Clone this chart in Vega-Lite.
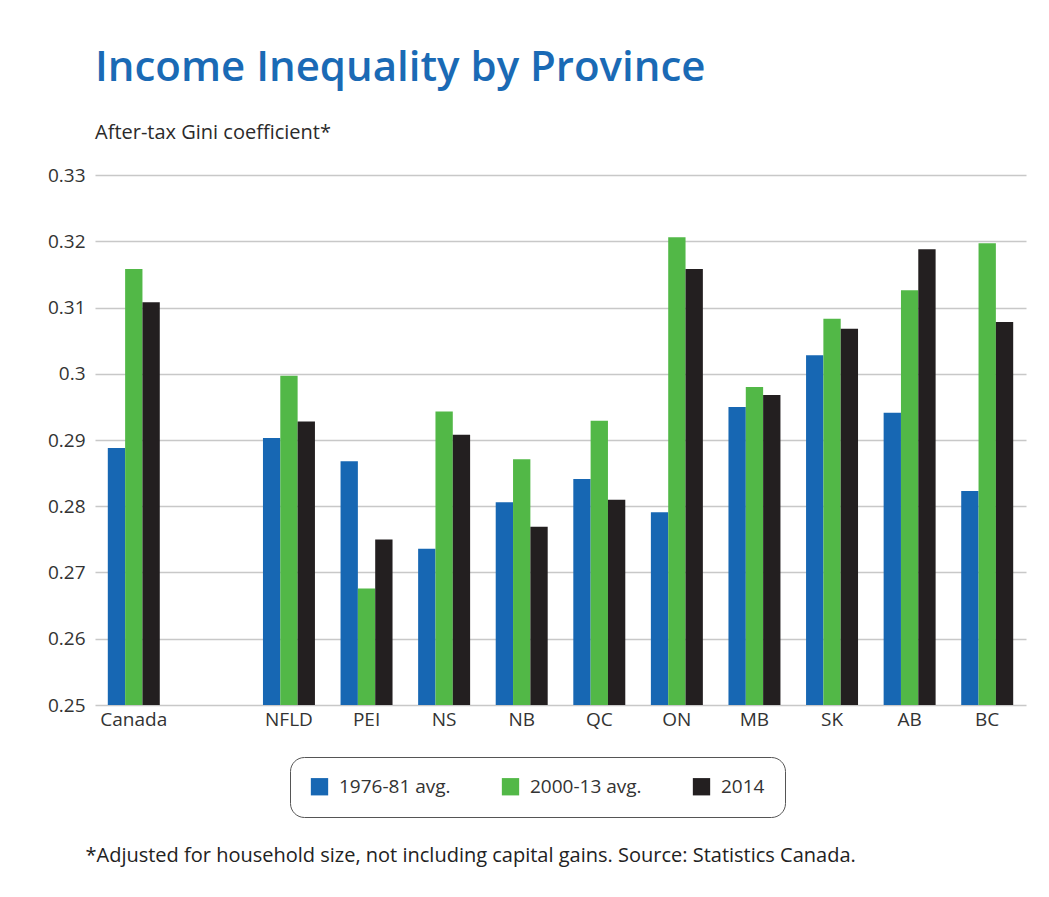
{
  "$schema": "https://vega.github.io/schema/vega-lite/v6.json",
  "autosize": {"type": "none"},
  "width": 931,
  "height": 530,
  "padding": {"left": 95, "top": 175, "right": 23, "bottom": 192},
  "background": "white",
  "config": {
    "font": "Open Sans",
    "view": {"stroke": null}
  },
  "title": {
    "text": "Income Inequality by Province",
    "subtitle": "After-tax Gini coefficient*",
    "anchor": "start",
    "frame": "group",
    "fontSize": 42,
    "fontWeight": 600,
    "color": "#1a6ab5",
    "subtitleFontSize": 20,
    "subtitleColor": "#2b2b2b",
    "subtitlePadding": 33,
    "offset": 22
  },
  "data": {
    "values": [
      {"region": "Canada", "series": "1976-81 avg.", "gini": 0.2888},
      {"region": "Canada", "series": "2000-13 avg.", "gini": 0.3158},
      {"region": "Canada", "series": "2014", "gini": 0.3108},
      {"region": "NFLD", "series": "1976-81 avg.", "gini": 0.2903},
      {"region": "NFLD", "series": "2000-13 avg.", "gini": 0.2997},
      {"region": "NFLD", "series": "2014", "gini": 0.2928},
      {"region": "PEI", "series": "1976-81 avg.", "gini": 0.2868},
      {"region": "PEI", "series": "2000-13 avg.", "gini": 0.2676},
      {"region": "PEI", "series": "2014", "gini": 0.2750},
      {"region": "NS", "series": "1976-81 avg.", "gini": 0.2736},
      {"region": "NS", "series": "2000-13 avg.", "gini": 0.2943},
      {"region": "NS", "series": "2014", "gini": 0.2908},
      {"region": "NB", "series": "1976-81 avg.", "gini": 0.2806},
      {"region": "NB", "series": "2000-13 avg.", "gini": 0.2871},
      {"region": "NB", "series": "2014", "gini": 0.2769},
      {"region": "QC", "series": "1976-81 avg.", "gini": 0.2841},
      {"region": "QC", "series": "2000-13 avg.", "gini": 0.2929},
      {"region": "QC", "series": "2014", "gini": 0.2810},
      {"region": "ON", "series": "1976-81 avg.", "gini": 0.2791},
      {"region": "ON", "series": "2000-13 avg.", "gini": 0.3206},
      {"region": "ON", "series": "2014", "gini": 0.3158},
      {"region": "MB", "series": "1976-81 avg.", "gini": 0.2950},
      {"region": "MB", "series": "2000-13 avg.", "gini": 0.2980},
      {"region": "MB", "series": "2014", "gini": 0.2968},
      {"region": "SK", "series": "1976-81 avg.", "gini": 0.3028},
      {"region": "SK", "series": "2000-13 avg.", "gini": 0.3083},
      {"region": "SK", "series": "2014", "gini": 0.3068},
      {"region": "AB", "series": "1976-81 avg.", "gini": 0.2941},
      {"region": "AB", "series": "2000-13 avg.", "gini": 0.3126},
      {"region": "AB", "series": "2014", "gini": 0.3188},
      {"region": "BC", "series": "1976-81 avg.", "gini": 0.2823},
      {"region": "BC", "series": "2000-13 avg.", "gini": 0.3197},
      {"region": "BC", "series": "2014", "gini": 0.3078}
    ]
  },
  "mark": {"type": "bar", "clip": true},
  "encoding": {
    "x": {
      "field": "region",
      "type": "nominal",
      "scale": {
        "domain": ["Canada", " ", "NFLD", "PEI", "NS", "NB", "QC", "ON", "MB", "SK", "AB", "BC"],
        "paddingInner": 0.33,
        "paddingOuter": 0.165
      },
      "axis": {
        "title": "*Adjusted for household size, not including capital gains. Source: Statistics Canada.",
        "titleAnchor": "start",
        "titleAlign": "left",
        "titleBaseline": "alphabetic",
        "titleX": -10,
        "titleY": 156,
        "titleFontSize": 20,
        "titleFontWeight": "normal",
        "titleColor": "#222222",
        "labelAngle": 0,
        "labelFontSize": 19,
        "labelColor": "#333333",
        "labelPadding": 5,
        "ticks": false,
        "domain": false
      }
    },
    "xOffset": {
      "field": "series",
      "type": "nominal",
      "sort": ["1976-81 avg.", "2000-13 avg.", "2014"],
      "scale": {"paddingInner": 0, "paddingOuter": 0}
    },
    "y": {
      "field": "gini",
      "type": "quantitative",
      "scale": {"domain": [0.25, 0.33], "zero": false, "nice": false},
      "axis": {
        "title": null,
        "values": [0.25, 0.26, 0.27, 0.28, 0.29, 0.3, 0.31, 0.32, 0.33],
        "format": ".2~f",
        "labelFontSize": 19,
        "labelColor": "#333333",
        "labelPadding": 10,
        "ticks": false,
        "domain": false,
        "gridColor": "#c8c8c8",
        "gridWidth": 1.5
      }
    },
    "color": {
      "field": "series",
      "type": "nominal",
      "sort": ["1976-81 avg.", "2000-13 avg.", "2014"],
      "scale": {
        "domain": ["1976-81 avg.", "2000-13 avg.", "2014"],
        "range": ["#1767b3", "#52b847", "#231f20"]
      },
      "legend": {
        "title": null,
        "orient": "none",
        "direction": "horizontal",
        "legendX": 195,
        "legendY": 582,
        "padding": 20,
        "strokeColor": "#555555",
        "cornerRadius": 14,
        "symbolType": "square",
        "symbolSize": 300,
        "symbolStrokeWidth": 0,
        "labelFontSize": 19,
        "labelColor": "#333333",
        "labelOffset": 10,
        "columnPadding": 50
      }
    }
  }
}
